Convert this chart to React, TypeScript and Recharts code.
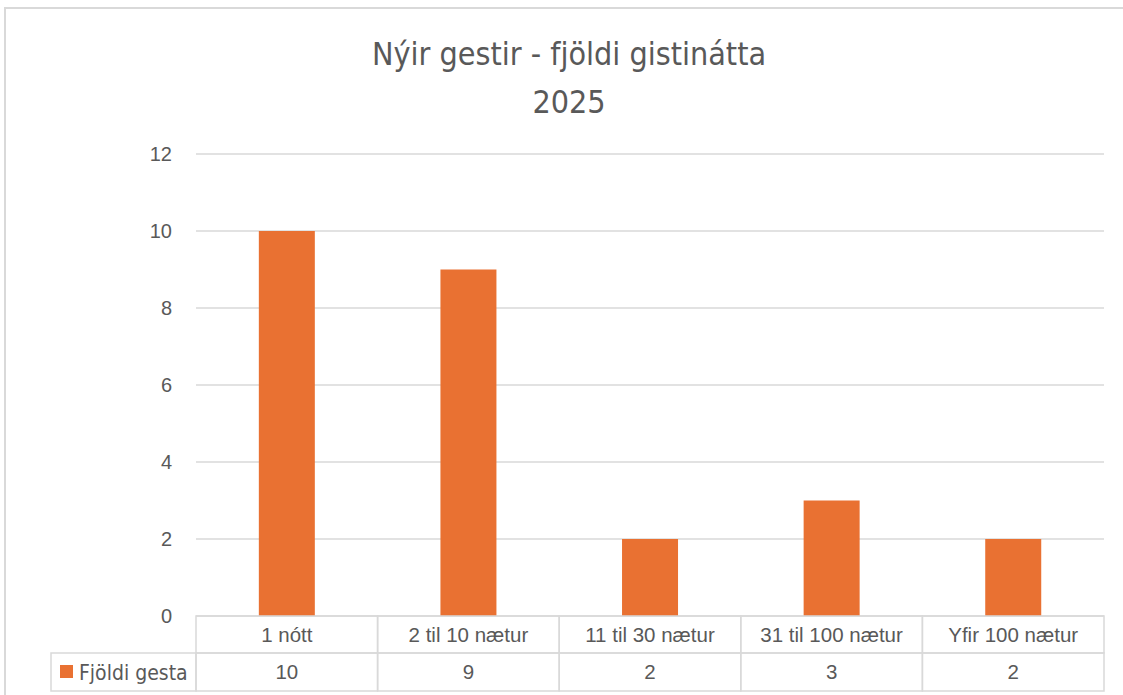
import React from 'react';
import { BarChart, Bar, XAxis, YAxis, CartesianGrid } from 'recharts';

const categories = ['1 nótt', '2 til 10 nætur', '11 til 30 nætur', '31 til 100 nætur', 'Yfir 100 nætur'];
const guestCounts = [10, 9, 2, 3, 2];
const yTicks = [0, 2, 4, 6, 8, 10, 12];
const seriesName = 'Fjöldi gesta';
const titleLines = ['Nýir gestir - fjöldi gistinátta', '2025'];

const data = categories.map((name, i) => ({ name, value: guestCounts[i] }));

const W = 1123;
const H = 695;
const PLOT_LEFT = 196;
const PLOT_RIGHT = 1104;
const BAND = (PLOT_RIGHT - PLOT_LEFT) / categories.length;
const LEGEND_LEFT = 51;
const HEADER_H = 37;
const ROW_H = 38;

const ORANGE = '#E97132';
const LINE = '#d9d9d9';
const TEXT = '#595959';
const BODY_FONT = '"Liberation Sans", Arial, sans-serif';
const NARROW_FONT = '"Liberation Sans Narrow", "DejaVu Sans Condensed", sans-serif';

const TableTick = (props: any) => {
  const { x, y, payload, index } = props;
  const left = x - BAND / 2;
  const top = y;
  return (
    <g>
      <rect x={left} y={top} width={BAND} height={HEADER_H} fill="none" stroke={LINE} strokeWidth={1.5} />
      <rect x={left} y={top + HEADER_H} width={BAND} height={ROW_H} fill="none" stroke={LINE} strokeWidth={1.5} />
      <text x={x} y={top + HEADER_H / 2 + 7} textAnchor="middle" fontSize={20.5} fill={TEXT} fontFamily={BODY_FONT}>
        {payload.value}
      </text>
      <text x={x} y={top + HEADER_H + ROW_H / 2 + 7} textAnchor="middle" fontSize={20.5} fill={TEXT} fontFamily={BODY_FONT}>
        {guestCounts[index]}
      </text>
      {index === 0 && (
        <g>
          <rect x={LEGEND_LEFT} y={top + HEADER_H} width={left - LEGEND_LEFT} height={ROW_H} fill="none" stroke={LINE} strokeWidth={1.5} />
          <rect x={LEGEND_LEFT + 9} y={top + HEADER_H + 12} width={13} height={13} fill={ORANGE} />
          <text x={LEGEND_LEFT + 28} y={top + HEADER_H + ROW_H / 2 + 8} fontSize={21} fill={TEXT} fontFamily={NARROW_FONT}>
            {seriesName}
          </text>
        </g>
      )}
    </g>
  );
};

export default function App() {
  return (
    <div style={{ position: 'absolute', left: 0, top: 0, width: W, height: H, overflow: 'hidden', background: '#fff' }}>
      <div
        style={{
          position: 'absolute',
          left: 4,
          top: 7,
          width: W + 20,
          height: H + 20,
          border: `2px solid ${LINE}`,
          boxSizing: 'border-box',
        }}
      />
      <div
        style={{
          position: 'absolute',
          left: 0,
          top: 30,
          width: 1138,
          textAlign: 'center',
          fontFamily: NARROW_FONT,
          fontSize: 32,
          lineHeight: '48px',
          color: TEXT,
        }}
      >
        {titleLines.map((t) => (
          <div key={t}>{t}</div>
        ))}
      </div>
      <div style={{ position: 'absolute', left: 0, top: 0 }}>
        <BarChart
          width={W}
          height={H}
          data={data}
          margin={{ top: 154, right: W - PLOT_RIGHT, bottom: 4, left: 136 }}
          barCategoryGap="34.6%"
        >
          <CartesianGrid vertical={false} stroke={LINE} strokeWidth={1.5} />
          <YAxis
            domain={[0, 12]}
            ticks={yTicks}
            width={60}
            axisLine={false}
            tickLine={false}
            tickMargin={18}
            tick={{ fill: TEXT, fontSize: 20, fontFamily: BODY_FONT }}
          />
          <XAxis
            dataKey="name"
            height={75}
            axisLine={false}
            tickLine={false}
            tickSize={0}
            tickMargin={0}
            interval={0}
            tick={<TableTick />}
          />
          <Bar dataKey="value" fill={ORANGE} isAnimationActive={false} />
        </BarChart>
      </div>
    </div>
  );
}
